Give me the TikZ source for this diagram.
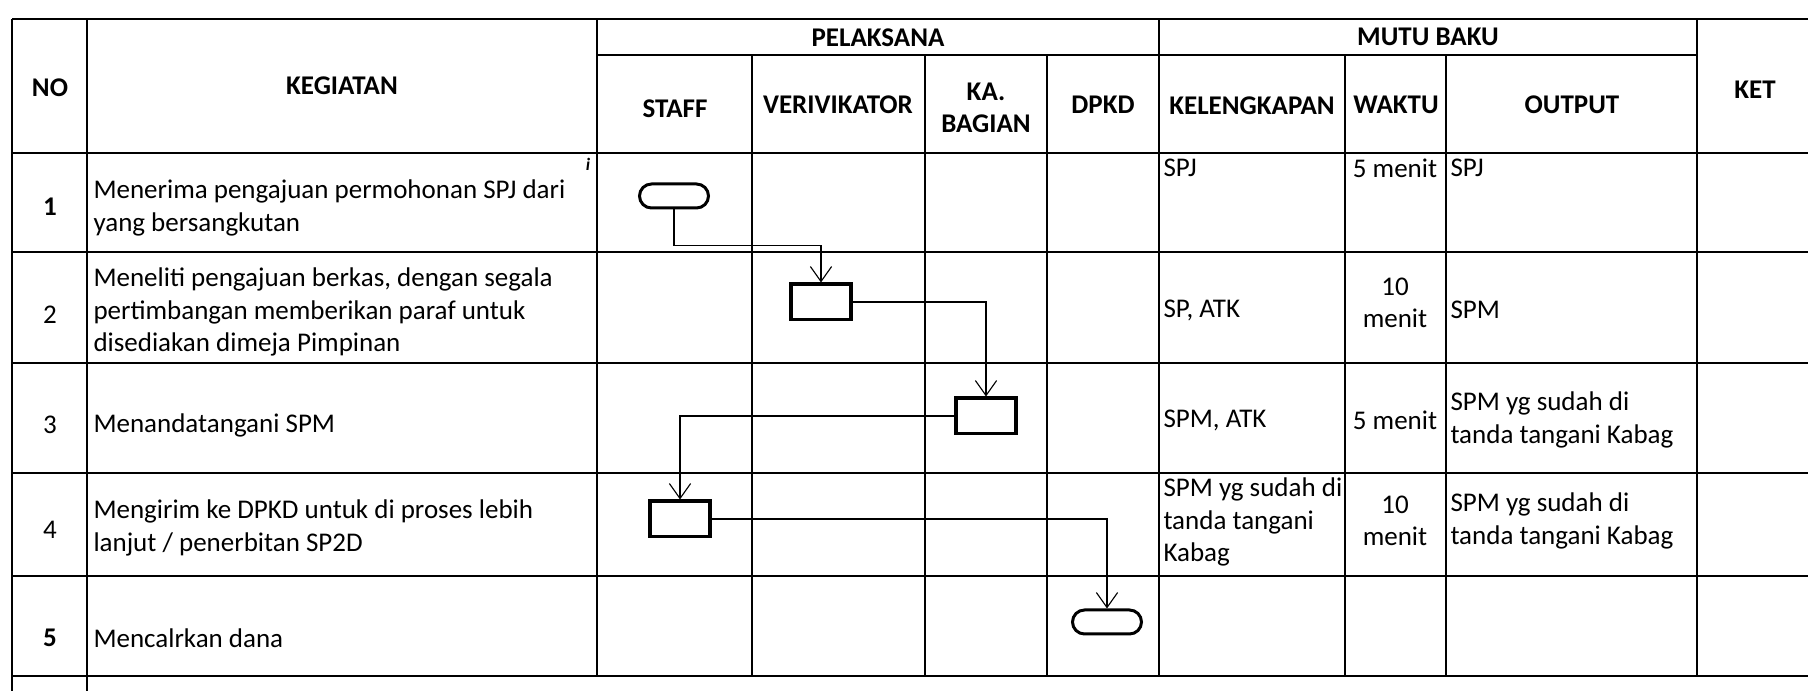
\documentclass[tikz,border=0pt]{standalone}
\usepackage{fontspec}
\setmainfont{Carlito}
\usetikzlibrary{arrows.meta}

\tikzset{
  grid/.style={line width=1pt},
  head/.style={font=\fontsize{10.8}{13}\selectfont\bfseries,inner sep=0pt},
  cell/.style={anchor=west,align=left,inner sep=0pt},
  mid/.style={align=center,inner sep=0pt},
  act/.style={draw,line width=1.4pt,minimum width=24pt,minimum height=14.2pt,inner sep=0pt},
  term/.style={draw,line width=1.2pt,rounded corners=4.8pt,minimum width=27.6pt,minimum height=9.6pt,inner sep=0pt},
  flow/.style={line width=0.45pt,-{Straight Barb[length=6pt,width=8.5pt]}}
}

\begin{document}
\begin{tikzpicture}[x=0.4pt,y=-0.4pt,font=\fontsize{10.8}{13}\selectfont]
  \useasboundingbox (0,0) rectangle (1808,691);

  % table grid
  \draw[grid] (12,19) -- (1808,19);
  \draw[grid] (597,55) -- (1697,55);
  \foreach \y in {153,252,363,473,576,676}
    \draw[grid] (12,\y) -- (1808,\y);
  \foreach \x in {12,87}
    \draw[grid] (\x,19) -- (\x,691);
  \foreach \x in {597,1159,1697}
    \draw[grid] (\x,19) -- (\x,676);
  \foreach \x in {752,925,1047,1345,1446}
    \draw[grid] (\x,55) -- (\x,676);

  % header
  \node[head] (hno) at (50,88) {NO};
  \node[head] (hkeg) at (342,86) {KEGIATAN};
  \node[head] (hpel) at (878,38) {PELAKSANA};
  \node[head] (hmutu) at (1428,37) {MUTU BAKU};
  \node[head] (hket) at (1755,90) {KET};
  \node[head] (hstaff) at (675,109) {STAFF};
  \node[head] (hver) at (838,105) {VERIVIKATOR};
  \node[head,align=center] (hkab) at (986,108) {KA.\\BAGIAN};
  \node[head] (hdpkd) at (1103,105) {DPKD};
  \node[head] (hkel) at (1252,106) {KELENGKAPAN};
  \node[head] (hwak) at (1396,105) {WAKTU};
  \node[head] (hout) at (1572,105) {OUTPUT};

  % nomor
  \node[mid] (no1) at (50,207) {\textbf{1}};
  \node[mid] (no2) at (50,315) {2};
  \node[mid] (no3) at (50,425) {3};
  \node[mid] (no4) at (50,530) {4};
  \node[mid] (no5) at (50,638) {\textbf{5}};

  % kegiatan
  \node[cell] (keg1) at (93,208) {Menerima pengajuan permohonan SPJ dari\\yang bersangkutan};
  \node[font=\fontsize{7}{8}\selectfont\bfseries\itshape,inner sep=0pt] (tanda) at (588,164) {i};
  \node[cell] (keg2) at (93,312) {Meneliti pengajuan berkas, dengan segala\\pertimbangan memberikan paraf untuk\\disediakan dimeja Pimpinan};
  \node[cell] (keg3) at (93,425) {Menandatangani SPM};
  \node[cell] (keg4) at (93,528) {Mengirim ke DPKD untuk di proses lebih\\lanjut / penerbitan SP2D};
  \node[cell] (keg5) at (93,638) {Mencalrkan dana};

  % mutu baku
  \node[cell] (kel1) at (1163,168) {SPJ};
  \node[mid] (wak1) at (1395,168) {5 menit};
  \node[cell] (out1) at (1450,168) {SPJ};
  \node[cell] (kel2) at (1163,310) {SP, ATK};
  \node[mid] (wak2) at (1395,303) {10\\menit};
  \node[cell] (out2) at (1450,310) {SPM};
  \node[cell] (kel3) at (1163,420) {SPM, ATK};
  \node[mid] (wak3) at (1395,420) {5 menit};
  \node[cell] (out3) at (1450,420) {SPM yg sudah di\\tanda tangani Kabag};
  \node[cell] (kel4) at (1163,522) {SPM yg sudah di\\tanda tangani\\Kabag};
  \node[mid] (wak4) at (1395,521) {10\\menit};
  \node[cell] (out4) at (1450,521) {SPM yg sudah di\\tanda tangani Kabag};

  % alur
  \node[term] (mulai) at (674,196) {};
  \node[act] (verif) at (821,302) {};
  \node[act] (kabag) at (986,416) {};
  \node[act] (staff) at (680,519) {};
  \node[term] (selesai) at (1107,622) {};

  \draw[flow] (mulai.south) -- ++(0,36) -| (verif.north);
  \draw[flow] (verif.east) -| (kabag.north);
  \draw[flow] (kabag.west) -| (staff.north);
  \draw[flow] (staff.east) -| (selesai.north);
\end{tikzpicture}
\end{document}
